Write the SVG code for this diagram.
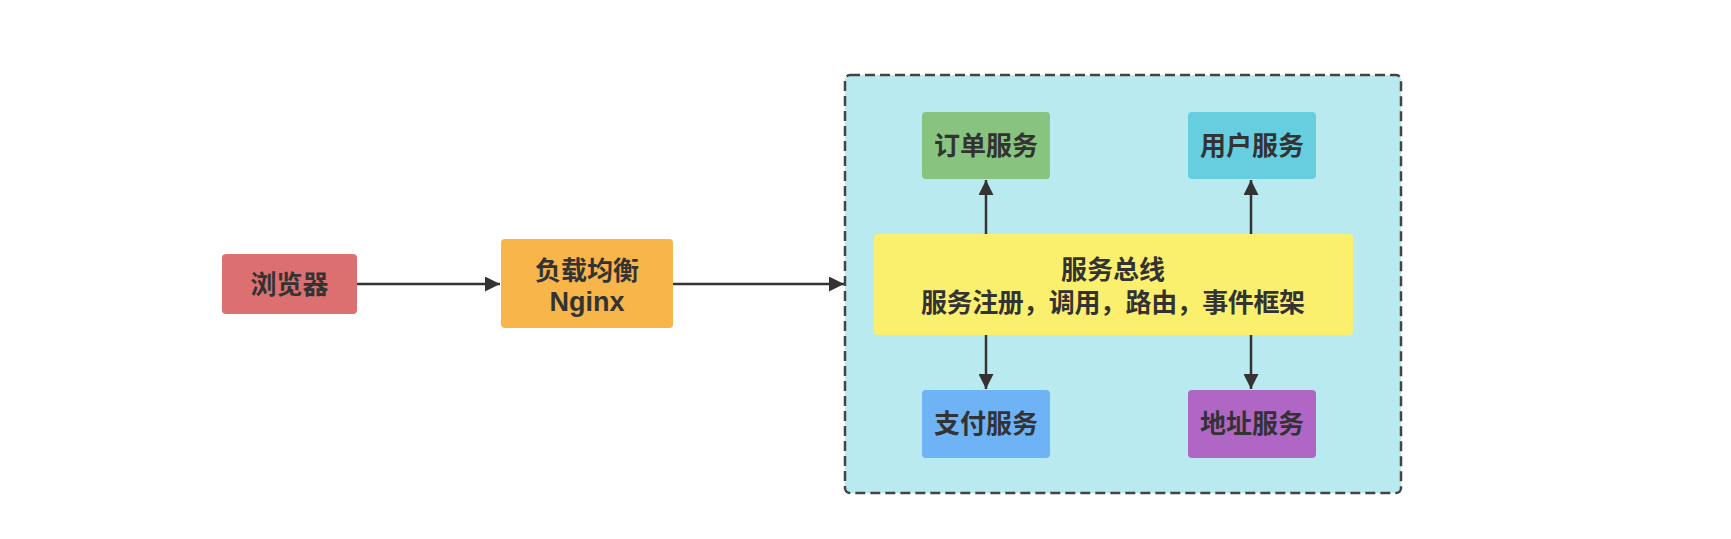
<svg xmlns="http://www.w3.org/2000/svg" width="1731" height="539" viewBox="0 0 1731 539">
<defs>
<style>
.lbl{font-family:"Liberation Sans","Noto Sans CJK SC",sans-serif;font-weight:bold;fill:#333;text-anchor:middle;dominant-baseline:central;font-size:26px}
.edge{stroke:#333;stroke-width:2.5;fill:none}
</style>
<marker id="ah" viewBox="0 0 10 10" refX="10" refY="5" markerWidth="6" markerHeight="6" orient="auto" markerUnits="strokeWidth">
<path d="M0,0 L10,5 L0,10 z" fill="#333"/>
</marker>
</defs>
<rect width="1731" height="539" fill="#fff"/>
<g id="container">
<rect x="845" y="75" width="556" height="418" rx="5" fill="#b8eaf0" stroke="#444" stroke-width="2.5" stroke-dasharray="10 5"/>
</g>
<g id="browser">
<rect x="222" y="254" width="135" height="60" rx="4" fill="#dc7070"/>
<text class="lbl" x="289.5" y="285">浏览器</text>
</g>
<g id="nginx">
<rect x="501" y="239" width="172" height="89" rx="4" fill="#f8b54a"/>
<text class="lbl" x="587" y="271">负载均衡</text>
<text class="lbl" x="587" y="302" style="font-size:27px">Nginx</text>
</g>
<g id="order">
<rect x="922" y="112" width="128" height="67" rx="4" fill="#88c47f"/>
<text class="lbl" x="986" y="146">订单服务</text>
</g>
<g id="user">
<rect x="1188" y="112" width="128" height="67" rx="4" fill="#67cee0"/>
<text class="lbl" x="1252" y="146">用户服务</text>
</g>
<g id="bus">
<rect x="874" y="234" width="479" height="101" rx="4" fill="#fbef6e"/>
<text class="lbl" x="1113" y="270">服务总线</text>
<text class="lbl" x="1113" y="303" textLength="384" lengthAdjust="spacing">服务注册，调用，路由，事件框架</text>
</g>
<g id="pay">
<rect x="922" y="390" width="128" height="68" rx="4" fill="#6fb3f7"/>
<text class="lbl" x="986" y="424">支付服务</text>
</g>
<g id="address">
<rect x="1188" y="390" width="128" height="68" rx="4" fill="#b066c4"/>
<text class="lbl" x="1252" y="424">地址服务</text>
</g>
<g id="connectors">
<line class="edge" x1="357" y1="284" x2="500" y2="284" marker-end="url(#ah)"/>
<line class="edge" x1="673" y1="284" x2="844" y2="284" marker-end="url(#ah)"/>
<line class="edge" x1="986" y1="234" x2="986" y2="180" marker-end="url(#ah)"/>
<line class="edge" x1="1251" y1="234" x2="1251" y2="180" marker-end="url(#ah)"/>
<line class="edge" x1="986" y1="335" x2="986" y2="389" marker-end="url(#ah)"/>
<line class="edge" x1="1251" y1="335" x2="1251" y2="389" marker-end="url(#ah)"/>
</g>
</svg>
